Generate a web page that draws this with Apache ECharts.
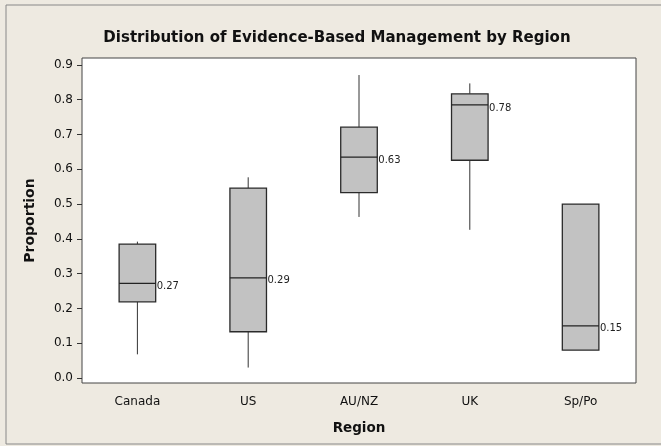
<!DOCTYPE html>
<html>
<head>
<meta charset="utf-8">
<script src="https://cdn.jsdelivr.net/npm/echarts@6/dist/echarts.min.js"></script>
<style>
	html, body { margin: 0; padding: 0; background: #eeeae1; }
	#main { width: 661px; height: 446px; }
</style>
</head>
<body>
<div id="main"></div>
<script>
	// data
	var regions = ['Canada', 'US', 'AU/NZ', 'UK', 'Sp/Po'];
	var lowWhisker = [0.068, 0.030, 0.463, 0.426, 0.080];
	var q1 = [0.219, 0.133, 0.533, 0.626, 0.080];
	var median = [0.272, 0.288, 0.635, 0.785, 0.150];
	var q3 = [0.385, 0.546, 0.721, 0.817, 0.500];
	var highWhisker = [0.392, 0.577, 0.871, 0.847, 0.500];
	var medianLabels = ['0.27', '0.29', '0.63', '0.78', '0.15'];
	var yTicks = [0, 0.1, 0.2, 0.3, 0.4, 0.5, 0.6, 0.7, 0.8, 0.9];

	var boxData = regions.map(function (r, i) {
		return [i, lowWhisker[i], q1[i], median[i], q3[i], highWhisker[i]];
	});

	var myChart = echarts.init(document.getElementById('main'));

	function renderBox(params, api) {
		var idx = api.value(0);
		var band = api.size([1, 0])[0];
		var half = band * 0.165;
		var pLow = api.coord([idx, api.value(1)]);
		var pQ1 = api.coord([idx, api.value(2)]);
		var pMed = api.coord([idx, api.value(3)]);
		var pQ3 = api.coord([idx, api.value(4)]);
		var pHigh = api.coord([idx, api.value(5)]);
		var x = pMed[0];
		return {
			type: 'group',
			children: [{
				type: 'line',
				shape: { x1: x, y1: pQ3[1], x2: x, y2: pHigh[1] },
				style: { stroke: '#333', lineWidth: 1 }
			}, {
				type: 'line',
				shape: { x1: x, y1: pQ1[1], x2: x, y2: pLow[1] },
				style: { stroke: '#333', lineWidth: 1 }
			}, {
				type: 'rect',
				shape: { x: x - half, y: pQ3[1], width: half * 2, height: pQ1[1] - pQ3[1] },
				style: { fill: '#c2c2c2', stroke: '#2a2a2a', lineWidth: 1.3 }
			}, {
				type: 'line',
				shape: { x1: x - half, y1: pMed[1], x2: x + half, y2: pMed[1] },
				style: { stroke: '#222', lineWidth: 1.3 }
			}, {
				type: 'text',
				x: x + half + 1,
				y: pMed[1] + 3,
				style: {
					text: medianLabels[params.dataIndex],
					fill: '#222',
					font: '10px "DejaVu Sans"',
					verticalAlign: 'middle',
					align: 'left'
				}
			}]
		};
	}

	var option = {
		backgroundColor: '#eeeae1',
		animation: false,
		title: {
			text: 'Distribution of Evidence-Based Management by Region',
			left: 332,
			top: 24,
			textAlign: 'center',
			textStyle: {
				fontFamily: '"DejaVu Sans Condensed", "DejaVu Sans"',
				fontWeight: 'bold',
				fontSize: 16.7,
				color: '#111'
			}
		},
		graphic: [{
			type: 'rect',
			silent: true,
			z: -10,
			shape: { x: 6, y: 5, width: 670, height: 439 },
			style: { fill: 'none', stroke: '#888', lineWidth: 1 }
		}],
		grid: {
			left: 82,
			right: 25,
			top: 58,
			bottom: 63,
			show: true,
			backgroundColor: '#fff',
			borderColor: '#444',
			borderWidth: 1
		},
		xAxis: {
			type: 'category',
			data: regions,
			name: 'Region',
			nameLocation: 'middle',
			nameGap: 38,
			nameTextStyle: { fontFamily: 'DejaVu Sans', fontWeight: 'bold', fontSize: 13.5, color: '#111' },
			axisLine: { show: false },
			axisTick: { alignWithLabel: true, length: 5, lineStyle: { color: '#333' } },
			axisLabel: { fontFamily: 'DejaVu Sans', fontSize: 12, color: '#111', margin: 13 },
			splitLine: { show: false }
		},
		yAxis: {
			type: 'value',
			min: -0.0144,
			max: 0.920,
			name: 'Proportion',
			nameLocation: 'middle',
			nameGap: 45,
			nameRotate: 90,
			nameTextStyle: { fontFamily: 'DejaVu Sans', fontWeight: 'bold', fontSize: 14, color: '#111' },
			axisLine: { show: false },
			axisTick: { show: true, customValues: yTicks, length: 5, lineStyle: { color: '#333' } },
			axisLabel: {
				customValues: yTicks,
				fontFamily: 'DejaVu Sans',
				fontSize: 12,
				color: '#111',
				margin: 9,
				formatter: function (v) { return v.toFixed(1); }
			},
			splitLine: { show: false }
		},
		series: [{
			type: 'custom',
			renderItem: renderBox,
			data: boxData,
			encode: { x: 0, y: [1, 2, 3, 4, 5] },
			z: 5
		}]
	};
	myChart.setOption(option);
</script>
</body>
</html>
